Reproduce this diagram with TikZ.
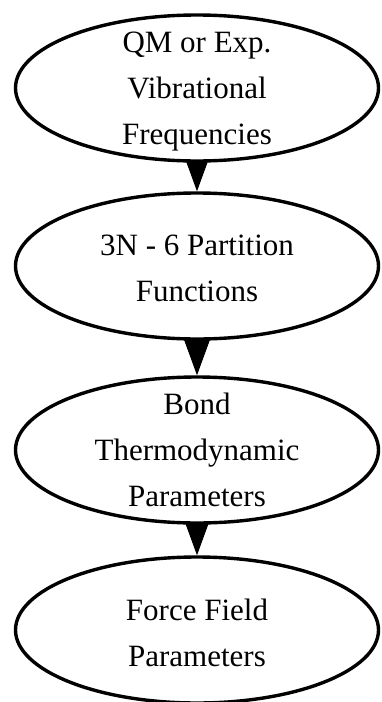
\documentclass[tikz,border=0pt]{standalone}
\usepackage{fontspec}
\setmainfont{Liberation Serif}
\usepackage{tikz}
\usetikzlibrary{shapes.geometric, arrows.meta, backgrounds}

\begin{document}
\begin{tikzpicture}[
  x=1pt, y=1pt,
  stage/.style={draw, ellipse, line width=3.4pt, fill=white, inner sep=0pt, minimum width=363pt, minimum height=146pt},
  stagetext/.style={align=center, font=\fontsize{31}{46}\selectfont, inner sep=0pt},
  flow/.style={-{Triangle[length=36pt, width=26pt]}, line width=1pt}
]
\useasboundingbox (0,0) rectangle (382,-702);

\node[stage, label={[stagetext, yshift=-4pt]center:QM or Exp.\\Vibrational\\Frequencies}] (freq) at (197, -88) {};
\node[stage, label={[stagetext, yshift=-2pt]center:3N - 6 Partition\\Functions}] (partfn) at (197, -266) {};
\node[stage, label={[stagetext, yshift=0pt]center:Bond\\Thermodynamic\\Parameters}] (bondpar) at (197, -450) {};
\node[stage, label={[stagetext, yshift=-3pt]center:Force Field\\Parameters}] (ffpar) at (197, -630) {};

\begin{scope}[on background layer]
\draw[flow] (freq) -- (partfn);
\draw[flow] (partfn) -- (bondpar);
\draw[flow] (bondpar) -- (ffpar);
\end{scope}

\end{tikzpicture}
\end{document}
